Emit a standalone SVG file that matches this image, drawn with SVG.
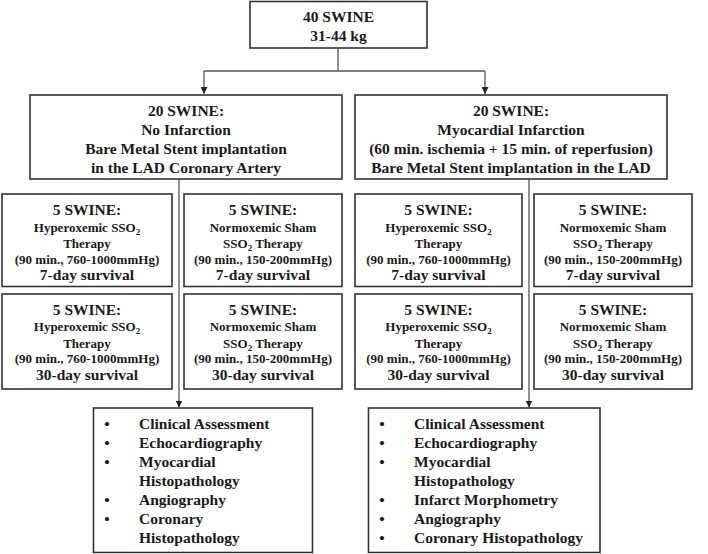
<svg xmlns="http://www.w3.org/2000/svg" width="708" height="554" viewBox="0 0 708 554">
<style>
.box{fill:#fff;stroke:#333;stroke-width:1.6}
.t{font-family:"Liberation Serif","Times New Roman",serif;font-weight:bold;font-size:15.5px;fill:#1a1a1a;text-anchor:middle}
.s{font-size:13px}
.l{font-family:"Liberation Serif","Times New Roman",serif;font-weight:bold;font-size:15.5px;fill:#1a1a1a}
.b{text-anchor:middle}
.c{fill:none;stroke:#555;stroke-width:1.3}
</style>
<defs>
<marker id="ah" viewBox="0 0 10 10" refX="10" refY="5" markerWidth="7" markerHeight="7" markerUnits="userSpaceOnUse" orient="auto">
<path d="M0,0 L10,5 L0,10 z" fill="#222"/>
</marker>
</defs>
<rect width="708" height="554" fill="#fff"/>
<g id="connectors">
<path class="c" d="M338,48 V71"/>
<path class="c" d="M204,71 H485"/>
<path class="c" d="M204,71 V94" marker-end="url(#ah)"/>
<path class="c" d="M485,71 V94" marker-end="url(#ah)"/>
<path class="c" d="M179,179 V407.5" marker-end="url(#ah)"/>
<path class="c" d="M529,179 V407.5" marker-end="url(#ah)"/>
</g>
<g id="top">
<rect class="box" x="250" y="1.5" width="177" height="46.5"/>
<text class="t" x="338.5" y="22">40 SWINE</text>
<text class="t" x="338.5" y="41">31-44 kg</text>
</g>
<g id="left-group">
<rect class="box" x="30" y="95" width="312" height="84"/>
<text class="t" x="186" y="116">20 SWINE:</text>
<text class="t" x="186" y="135">No Infarction</text>
<text class="t" x="186" y="154">Bare Metal Stent implantation</text>
<text class="t" x="186" y="173">in the LAD Coronary Artery</text>
</g>
<g id="right-group">
<rect class="box" x="355" y="95" width="312" height="84"/>
<text class="t" x="511" y="116">20 SWINE:</text>
<text class="t" x="511" y="135">Myocardial Infarction</text>
<text class="t" x="511" y="154">(60 min. ischemia + 15 min. of reperfusion)</text>
<text class="t" x="511" y="173">Bare Metal Stent implantation in the LAD</text>
</g>
<g id="ni-hyper-7">
<rect class="box" x="2" y="194" width="170" height="92.5"/>
<text class="t" x="87" y="215">5 SWINE:</text>
<text class="t s" x="87" y="231.5">Hyperoxemic SSO<tspan font-size="9" dy="3">2</tspan></text>
<text class="t s" x="87" y="247.5">Therapy</text>
<text class="t s" x="87" y="264">(90 min., 760-1000mmHg)</text>
<text class="t" x="87" y="280">7-day survival</text>
</g>
<g id="ni-sham-7">
<rect class="box" x="184" y="194" width="158" height="92.5"/>
<text class="t" x="263" y="215">5 SWINE:</text>
<text class="t s" x="263" y="231.5">Normoxemic Sham</text>
<text class="t s" x="263" y="247.5">SSO<tspan font-size="9" dy="3">2</tspan><tspan dy="-3"> Therapy</tspan></text>
<text class="t s" x="263" y="264">(90 min., 150-200mmHg)</text>
<text class="t" x="263" y="280">7-day survival</text>
</g>
<g id="mi-hyper-7">
<rect class="box" x="355" y="194" width="167" height="92.5"/>
<text class="t" x="438.5" y="215">5 SWINE:</text>
<text class="t s" x="438.5" y="231.5">Hyperoxemic SSO<tspan font-size="9" dy="3">2</tspan></text>
<text class="t s" x="438.5" y="247.5">Therapy</text>
<text class="t s" x="438.5" y="264">(90 min., 760-1000mmHg)</text>
<text class="t" x="438.5" y="280">7-day survival</text>
</g>
<g id="mi-sham-7">
<rect class="box" x="534" y="194" width="158" height="92.5"/>
<text class="t" x="613" y="215">5 SWINE:</text>
<text class="t s" x="613" y="231.5">Normoxemic Sham</text>
<text class="t s" x="613" y="247.5">SSO<tspan font-size="9" dy="3">2</tspan><tspan dy="-3"> Therapy</tspan></text>
<text class="t s" x="613" y="264">(90 min., 150-200mmHg)</text>
<text class="t" x="613" y="280">7-day survival</text>
</g>
<g id="ni-hyper-30">
<rect class="box" x="2" y="294" width="170" height="95"/>
<text class="t" x="87" y="315">5 SWINE:</text>
<text class="t s" x="87" y="331">Hyperoxemic SSO<tspan font-size="9" dy="3">2</tspan></text>
<text class="t s" x="87" y="347.5">Therapy</text>
<text class="t s" x="87" y="363">(90 min., 760-1000mmHg)</text>
<text class="t" x="87" y="380">30-day survival</text>
</g>
<g id="ni-sham-30">
<rect class="box" x="184" y="294" width="158" height="95"/>
<text class="t" x="263" y="315">5 SWINE:</text>
<text class="t s" x="263" y="331">Normoxemic Sham</text>
<text class="t s" x="263" y="347.5">SSO<tspan font-size="9" dy="3">2</tspan><tspan dy="-3"> Therapy</tspan></text>
<text class="t s" x="263" y="363">(90 min., 150-200mmHg)</text>
<text class="t" x="263" y="380">30-day survival</text>
</g>
<g id="mi-hyper-30">
<rect class="box" x="355" y="294" width="167" height="95"/>
<text class="t" x="438.5" y="315">5 SWINE:</text>
<text class="t s" x="438.5" y="331">Hyperoxemic SSO<tspan font-size="9" dy="3">2</tspan></text>
<text class="t s" x="438.5" y="347.5">Therapy</text>
<text class="t s" x="438.5" y="363">(90 min., 760-1000mmHg)</text>
<text class="t" x="438.5" y="380">30-day survival</text>
</g>
<g id="mi-sham-30">
<rect class="box" x="534" y="294" width="158" height="95"/>
<text class="t" x="613" y="315">5 SWINE:</text>
<text class="t s" x="613" y="331">Normoxemic Sham</text>
<text class="t s" x="613" y="347.5">SSO<tspan font-size="9" dy="3">2</tspan><tspan dy="-3"> Therapy</tspan></text>
<text class="t s" x="613" y="363">(90 min., 150-200mmHg)</text>
<text class="t" x="613" y="380">30-day survival</text>
</g>
<g id="ni-outcomes">
<rect class="box" x="93.5" y="408" width="219" height="144.5"/>
<text class="l b" x="107" y="429">•</text>
<text class="l" x="139" y="429">Clinical Assessment</text>
<text class="l b" x="107" y="448">•</text>
<text class="l" x="139" y="448">Echocardiography</text>
<text class="l b" x="107" y="467">•</text>
<text class="l" x="139" y="467">Myocardial</text>
<text class="l" x="139" y="486">Histopathology</text>
<text class="l b" x="107" y="505">•</text>
<text class="l" x="139" y="505">Angiography</text>
<text class="l b" x="107" y="523.5">•</text>
<text class="l" x="139" y="523.5">Coronary</text>
<text class="l" x="139" y="543">Histopathology</text>
</g>
<g id="mi-outcomes">
<rect class="box" x="368.5" y="408" width="231.5" height="144.5"/>
<text class="l b" x="382" y="429">•</text>
<text class="l" x="414" y="429">Clinical Assessment</text>
<text class="l b" x="382" y="448">•</text>
<text class="l" x="414" y="448">Echocardiography</text>
<text class="l b" x="382" y="467">•</text>
<text class="l" x="414" y="467">Myocardial</text>
<text class="l" x="414" y="486">Histopathology</text>
<text class="l b" x="382" y="505">•</text>
<text class="l" x="414" y="505">Infarct Morphometry</text>
<text class="l b" x="382" y="523.5">•</text>
<text class="l" x="414" y="523.5">Angiography</text>
<text class="l b" x="382" y="543">•</text>
<text class="l" x="414" y="543">Coronary Histopathology</text>
</g>
</svg>
